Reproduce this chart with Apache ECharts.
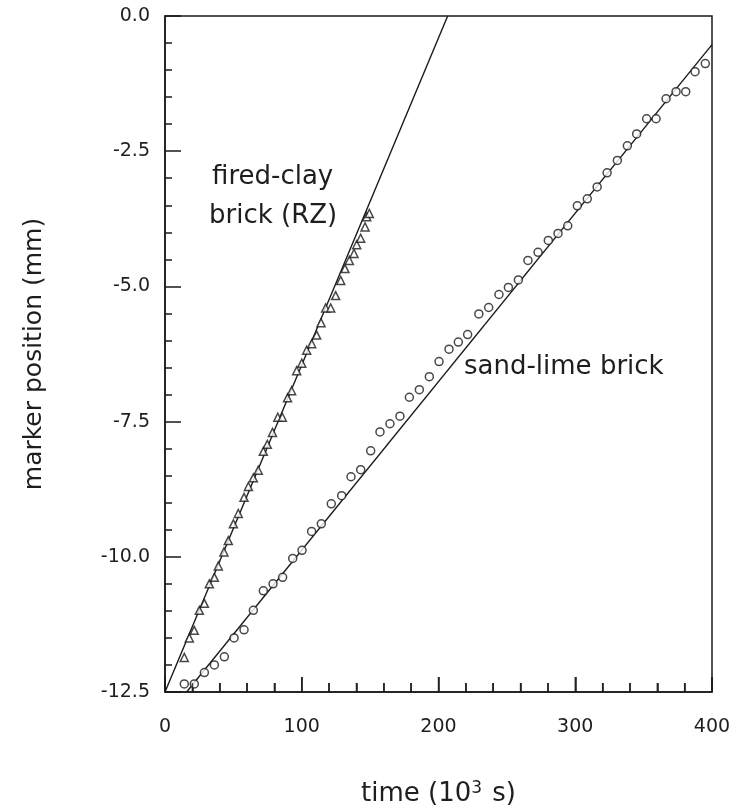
<!DOCTYPE html>
<html>
<head>
<meta charset="utf-8">
<script src="https://cdn.jsdelivr.net/npm/echarts@6/dist/echarts.min.js"></script>
<style>
  html, body { margin: 0; padding: 0; background: #fff; }
  #chart { width: 736px; height: 812px; }
</style>
</head>
<body>
<div id="chart"></div>
<script>
// fired-clay brick (RZ), triangles
const clayTime = [14.1, 17.8, 21.4, 25.1, 28.8, 32.4, 36.1, 39.0, 43.1, 46.3,
  50.0, 53.6, 57.8, 61.0, 64.6, 68.2, 71.9, 74.8, 78.6, 82.5,
  85.8, 89.6, 92.6, 96.3, 100.0, 103.6, 107.3, 110.9, 114.1, 117.5,
  121.2, 124.8, 128.5, 131.6, 134.8, 138.2, 140.2, 143.1, 146.3, 147.5, 149.4]
const clayPos = [-11.86, -11.50, -11.36, -10.99, -10.86, -10.50, -10.38, -10.17, -9.91, -9.70,
  -9.39, -9.20, -8.90, -8.70, -8.54, -8.40, -8.05, -7.92, -7.70, -7.42,
  -7.42, -7.06, -6.93, -6.56, -6.42, -6.18, -6.06, -5.90, -5.67, -5.40,
  -5.40, -5.17, -4.89, -4.67, -4.52, -4.39, -4.23, -4.11, -3.90, -3.71, -3.65]

// sand-lime brick, circles
const sandTime = [14.1, 21.4, 28.8, 36.1, 43.4, 50.5, 57.8, 64.6, 71.9, 79.0,
  86.0, 93.4, 100.2, 107.2, 114.3, 121.6, 129.2, 136.0, 143.1, 150.4,
  157.2, 164.5, 171.8, 178.7, 186.0, 193.3, 200.4, 207.7, 214.5, 221.3,
  229.5, 236.7, 244.2, 251.1, 258.4, 265.4, 272.8, 280.3, 287.4, 294.5,
  301.5, 308.8, 316.0, 323.3, 330.8, 338.1, 344.9, 352.2, 359.1, 366.4,
  373.7, 380.8, 387.6, 395.1]
const sandPos = [-12.35, -12.35, -12.14, -12.0, -11.85, -11.50, -11.35, -10.99, -10.63, -10.50,
  -10.38, -10.03, -9.88, -9.53, -9.39, -9.02, -8.87, -8.52, -8.39, -8.04,
  -7.69, -7.54, -7.40, -7.05, -6.91, -6.67, -6.39, -6.16, -6.03, -5.89,
  -5.51, -5.39, -5.15, -5.02, -4.88, -4.52, -4.37, -4.15, -4.02, -3.88,
  -3.51, -3.38, -3.16, -2.90, -2.67, -2.40, -2.18, -1.90, -1.90, -1.53,
  -1.40, -1.40, -1.03, -0.88]

// fitted straight lines (end points)
const clayFitTime = [0, 206.7]
const clayFitPos = [-12.5, 0]
const sandFitTime = [15.8, 400]
const sandFitPos = [-12.5, -0.53]

// bottom axis tick values (major labelled, minor every 20)
const xMajorTicks = [0, 100, 200, 300, 400]
const xMinorTicks = [20, 40, 60, 80, 120, 140, 160, 180, 220, 240, 260, 280, 320, 340, 360, 380]
const yBottom = -12.5

const zip = (a, b) => a.map((v, i) => [v, b[i]])

const ink = '#1a1a1a'
const txt = '#1e1e1e'
const font = 'DejaVu Sans, Arial, sans-serif'

const myChart = echarts.init(document.getElementById('chart'))

const tickStyle = { color: ink, width: 1.5 }

const option = {
  animation: false,
  grid: {
    left: 165,
    right: 24,
    top: 16,
    bottom: 115,
    show: true,
    borderColor: ink,
    borderWidth: 1.5
  },
  xAxis: {
    type: 'value',
    position: 'bottom',
    min: 0,
    max: 400,
    interval: 100,
    name: 'time (10{sup|3} s)',
    nameLocation: 'middle',
    nameGap: 88,
    nameTextStyle: {
      color: txt,
      fontSize: 26,
      fontFamily: font,
      rich: {
        sup: { fontSize: 17, verticalAlign: 'top', padding: [0, 2, 11, 0], color: txt, fontFamily: font }
      }
    },
    axisLine: { show: true, onZero: false, lineStyle: { color: ink, width: 1.5 } },
    axisTick: { show: true, inside: true, length: 15, lineStyle: tickStyle },
    minorTick: { show: true, splitNumber: 5, length: 9, lineStyle: tickStyle },
    axisLabel: { color: txt, fontSize: 19, fontFamily: font, margin: 26 },
    splitLine: { show: false }
  },
  yAxis: {
    type: 'value',
    position: 'left',
    min: -12.5,
    max: 0,
    interval: 2.5,
    name: 'marker position (mm)',
    nameLocation: 'middle',
    nameGap: 118,
    nameTextStyle: { color: txt, fontSize: 25, fontFamily: font },
    axisLine: { show: true, onZero: false, lineStyle: { color: ink, width: 1.5 } },
    axisTick: { show: true, inside: true, length: 16, lineStyle: tickStyle },
    minorTick: { show: true, splitNumber: 5, length: 7, lineStyle: tickStyle },
    axisLabel: {
      color: txt,
      fontSize: 19,
      fontFamily: font,
      margin: 15,
      formatter: v => v.toFixed(1)
    },
    splitLine: { show: false }
  },
  graphic: [
    { type: 'text', left: 212, top: 164, style: { text: 'fired-clay', fill: txt, fontSize: 26, fontFamily: font } },
    { type: 'text', left: 209, top: 203, style: { text: 'brick (RZ)', fill: txt, fontSize: 26, fontFamily: font } },
    { type: 'text', left: 464, top: 354, style: { text: 'sand-lime brick', fill: txt, fontSize: 26, fontFamily: font } }
  ],
  series: [
    {
      name: 'clay fit',
      type: 'line',
      data: zip(clayFitTime, clayFitPos),
      showSymbol: false,
      lineStyle: { color: ink, width: 1.4 },
      z: 1
    },
    {
      name: 'sand fit',
      type: 'line',
      data: zip(sandFitTime, sandFitPos),
      showSymbol: false,
      lineStyle: { color: ink, width: 1.4 },
      z: 1
    },
    {
      name: 'fired-clay brick (RZ)',
      type: 'scatter',
      data: zip(clayTime, clayPos),
      symbol: 'triangle',
      symbolSize: 8,
      itemStyle: { color: '#fff', borderColor: ink, borderWidth: 1.5 },
      z: 2
    },
    {
      name: 'sand-lime brick',
      type: 'scatter',
      data: zip(sandTime, sandPos),
      symbol: 'circle',
      symbolSize: 8,
      itemStyle: { color: '#fff', borderColor: ink, borderWidth: 1.5 },
      z: 2
    },
    // bottom-edge ticks (the axis ticks don't show on this axis in v6)
    {
      name: 'x ticks',
      type: 'scatter',
      data: xMajorTicks.map(t => [t, yBottom]),
      symbol: 'rect',
      symbolSize: [1.5, 15],
      symbolOffset: [0, -7.5],
      itemStyle: { color: ink },
      clip: false,
      silent: true,
      z: 3
    },
    {
      name: 'x minor ticks',
      type: 'scatter',
      data: xMinorTicks.map(t => [t, yBottom]),
      symbol: 'rect',
      symbolSize: [1.5, 9],
      symbolOffset: [0, -4.5],
      itemStyle: { color: ink },
      clip: false,
      silent: true,
      z: 3
    }
  ]
}

myChart.setOption(option)
</script>
</body>
</html>
